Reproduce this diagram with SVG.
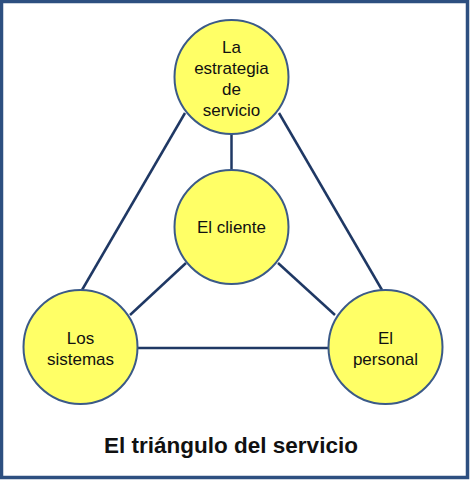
<svg xmlns="http://www.w3.org/2000/svg" width="470" height="480" viewBox="0 0 470 480">
<style>
.node circle{fill:#ffff66;stroke:#3b5a88;stroke-width:2}
.node text{font-family:"Liberation Sans",Arial,sans-serif;font-size:17px;fill:#111;text-anchor:middle}
.conn line{stroke:#1f3864;stroke-width:2.5}
.title{font-family:"Liberation Sans",Arial,sans-serif;font-size:22.5px;font-weight:bold;fill:#111;text-anchor:middle}
</style>
<rect x="0" y="0" width="470" height="480" fill="#fff"/>
<rect x="1.5" y="1.5" width="466" height="476" fill="none" stroke="#2d4f80" stroke-width="3.5"/>
<g id="connectors" class="conn">
<line x1="185" y1="113" x2="82" y2="290"/>
<line x1="279" y1="113" x2="382" y2="290"/>
<line x1="231.5" y1="134" x2="231.5" y2="170"/>
<line x1="186" y1="263" x2="130" y2="315"/>
<line x1="278" y1="263" x2="335" y2="315"/>
<line x1="138" y1="348" x2="328" y2="348"/>
</g>
<g id="estrategia" class="node">
<circle cx="231.5" cy="77" r="57"/>
<text x="231.5" y="53">La</text>
<text x="231.5" y="74">estrategia</text>
<text x="231.5" y="95">de</text>
<text x="231.5" y="116">servicio</text>
</g>
<g id="cliente" class="node">
<circle cx="231.5" cy="227" r="57"/>
<text x="231.5" y="233">El cliente</text>
</g>
<g id="sistemas" class="node">
<circle cx="80.5" cy="347" r="57"/>
<text x="80.5" y="344">Los</text>
<text x="80.5" y="365">sistemas</text>
</g>
<g id="personal" class="node">
<circle cx="385.5" cy="347" r="57"/>
<text x="385.5" y="344">El</text>
<text x="385.5" y="365">personal</text>
</g>
<text class="title" x="231" y="453">El triángulo del servicio</text>
</svg>
